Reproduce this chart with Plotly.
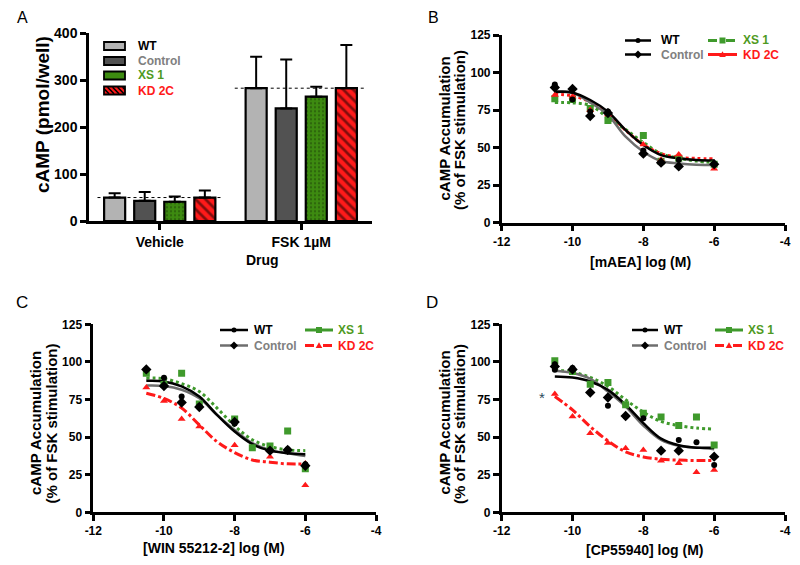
import plotly.graph_objects as go

W, H = 800, 565
OFF = 8  # page body margin offset
FONT = "Liberation Sans, Arial, sans-serif"

# ---------------- Panel A data ----------------
groups = ["Vehicle", "FSK 1µM"]
wt_bar = [50, 283]
control_bar = [43, 240]
xs1_bar = [41, 265]
kd2c_bar = [50, 283]
wt_err = [9, 67]
control_err = [19, 104]
xs1_err = [11, 21]
kd2c_err = [15, 92]
a_yticks = [0, 100, 200, 300, 400]

# ---------------- Dose-response common ----------------
log_ticks = [-12, -10, -8, -6, -4]
log_ticktext = ["-12", "-10", "-8", "-6", "-4"]
pct_ticks = [0, 25, 50, 75, 100, 125]
curve_x = [-10.5, -10, -9.5, -9, -8.5, -8, -7.5, -7, -6.5, -6]

# ---------------- Panel B (mAEA) ----------------
b_x = [-10.5, -10, -9.5, -9, -8, -7.5, -7, -6]
b_wt = [92, 82, 74, 74, 48, 40, 42, 39]
b_control = [90, 89, 71, 73, 46, 40, 37.5, 39]
b_xs1 = [82.5, 82, 76, 68, 58, 41, 43, 39]
b_kd2c = [85, 84, 75, 72, 52, 42, 45.5, 36]
b_wt_fit = [87, 86.6, 81.7, 73.9, 61.7, 51.7, 45, 42.9, 41.8, 41.4]
b_control_fit = [87.7, 86.5, 80, 71.7, 57.3, 47.3, 41.1, 39.5, 38.6, 38.4]
b_xs1_fit = [80, 79.8, 78, 70, 62, 53.5, 46, 43, 41, 40]
b_kd2c_fit = [85.5, 84.5, 80.5, 73, 61.5, 52, 46, 43.5, 42.8, 42.5]

# ---------------- Panel C (WIN 55212-2) ----------------
c_wt_x = [-10.5, -10, -9.5, -9, -8, -7, -6.5, -6]
c_wt = [95, 89.5, 77, 70.5, 59, 41, 42, 32]
c_control_x = [-10.5, -10, -9.5, -9, -8, -7, -6.5, -6]
c_control = [95, 84, 73, 70, 60, 41, 41.5, 31]
c_xs1_x = [-10.5, -10, -9.5, -9, -8, -7.5, -7, -6.5, -6]
c_xs1 = [92.5, 85, 92.5, 72, 62, 43, 44, 54, 29]
c_kd2c_x = [-10.5, -10, -9.5, -9, -8, -7, -6, -6]
c_kd2c = [83, 74, 62, 57, 44.5, 37, 32.5, 18]
c_wt_fit = [87.4, 87, 83.7, 77, 64.8, 53.7, 45.3, 41, 39.3, 38.6]
c_control_fit = [84.3, 84, 81.5, 75.8, 64.8, 54.8, 46, 41.5, 39.3, 37.5]
c_xs1_fit = [89.2, 88.8, 85.5, 80.3, 69.3, 57.5, 48.2, 43.7, 41.5, 41]
c_kd2c_fit = [79.2, 75.7, 69.3, 58.1, 47, 39.7, 34.8, 33.3, 32.2, 32.2]

# ---------------- Panel D (CP55940) ----------------
d_wt_x = [-10.5, -10.5, -10, -9, -8.5, -8, -7, -6.5, -6]
d_wt = [98.5, 94.8, 95.9, 70.8, 63.7, 62.6, 48.1, 46.6, 31.5]
d_control_x = [-10.5, -10, -9.5, -9, -8.5, -7.5, -7, -6]
d_control = [97, 95, 79.7, 76.3, 64, 41, 41, 37]
d_xs1_x = [-10.5, -10, -9.5, -9, -8.5, -8, -7.5, -7, -6.5, -6]
d_xs1 = [100.8, 93.6, 85.2, 86.3, 71.5, 65.9, 63.3, 57.7, 63.3, 44.8]
d_kd2c_x = [-10.5, -10, -9.5, -9, -8.5, -8, -7.5, -7, -6.5, -6]
d_kd2c = [78.6, 63.7, 52.6, 46, 42.6, 41.5, 34.2, 32.6, 26.6, 28.2]
d_wt_fit = [90.3, 89.6, 87, 81.4, 71.5, 59.3, 49, 44.6, 43, 43]
d_control_fit = [94.1, 92.6, 88.8, 80.3, 70.3, 57.7, 48.1, 44.2, 43, 42]
d_xs1_fit = [94.7, 93.2, 89.7, 83.7, 74.8, 66.6, 60.4, 57.7, 56, 55.3]
d_kd2c_fit = [77, 68.1, 57, 47.5, 40.2, 36.8, 35.3, 34.7, 34.4, 34.4]

# ---------------- Styles ----------------
C_WT_BAR = "#b3b3b3"
C_CTRL_BAR = "#525252"
C_GREEN_BAR = "#3d8b10"
C_RED = "#ff1a1a"
C_GREEN = "#3f9a2c"
C_GREEN_TXT = "#4f9a22"
C_GRAY_TXT = "#808080"
C_CTRL_LINE = "#6e6e6e"

fig = go.Figure()

# ---------------- Panel A bars ----------------
bar_specs = [
    ("WT", wt_bar, wt_err, dict(color=C_WT_BAR)),
    ("Control", control_bar, control_err, dict(color=C_CTRL_BAR)),
    ("XS 1", xs1_bar, xs1_err, dict(color=C_GREEN_BAR,
                                     pattern=dict(shape=".", fgcolor="#1c3d05", size=4,
                                                  solidity=0.25, fillmode="overlay"))),
    ("KD 2C", kd2c_bar, kd2c_err, dict(color=C_RED,
                                        pattern=dict(shape="\\", fgcolor="black", size=7,
                                                     solidity=0.38, fillmode="overlay"))),
]
for name, vals, errs, mk in bar_specs:
    mk = dict(mk)
    mk["line"] = dict(color="black", width=2.2)
    fig.add_trace(go.Bar(
        x=groups, y=vals, name=name, marker=mk, xaxis="x", yaxis="y",
        error_y=dict(type="data", array=errs, arrayminus=[0] * len(errs), symmetric=False,
                     color="black", thickness=2, width=6),
        showlegend=False))

# ---------------- Dose-response traces ----------------
def add_panel(ax, fits, points, red_dash):
    xa, ya = "x" + ax, "y" + ax
    (wt_fit, ctrl_fit, xs_fit, kd_fit) = fits
    fig.add_trace(go.Scatter(x=curve_x, y=xs_fit, mode="lines", line=dict(color=C_GREEN, width=3, dash="dot", shape="spline"),
                             xaxis=xa, yaxis=ya, showlegend=False))
    fig.add_trace(go.Scatter(x=curve_x, y=kd_fit, mode="lines", line=dict(color=C_RED, width=3, dash=red_dash, shape="spline"),
                             xaxis=xa, yaxis=ya, showlegend=False))
    fig.add_trace(go.Scatter(x=curve_x, y=ctrl_fit, mode="lines", line=dict(color=C_CTRL_LINE, width=2.5, shape="spline"),
                             xaxis=xa, yaxis=ya, showlegend=False))
    fig.add_trace(go.Scatter(x=curve_x, y=wt_fit, mode="lines", line=dict(color="black", width=2.5, shape="spline"),
                             xaxis=xa, yaxis=ya, showlegend=False))
    (wx, wy), (cx, cy), (sx, sy), (kx, ky) = points
    fig.add_trace(go.Scatter(x=sx, y=sy, mode="markers", marker=dict(symbol="square", size=7, color=C_GREEN),
                             xaxis=xa, yaxis=ya, showlegend=False))
    fig.add_trace(go.Scatter(x=kx, y=ky, mode="markers", marker=dict(symbol="triangle-up", size=7, color=C_RED),
                             xaxis=xa, yaxis=ya, showlegend=False))
    fig.add_trace(go.Scatter(x=cx, y=cy, mode="markers", marker=dict(symbol="diamond", size=8, color="black"),
                             xaxis=xa, yaxis=ya, showlegend=False))
    fig.add_trace(go.Scatter(x=wx, y=wy, mode="markers", marker=dict(symbol="circle", size=6, color="black"),
                             xaxis=xa, yaxis=ya, showlegend=False))

add_panel("2", (b_wt_fit, b_control_fit, b_xs1_fit, b_kd2c_fit),
          ((b_x, b_wt), (b_x, b_control), (b_x, b_xs1), (b_x, b_kd2c)), "dot")
add_panel("3", (c_wt_fit, c_control_fit, c_xs1_fit, c_kd2c_fit),
          ((c_wt_x, c_wt), (c_control_x, c_control), (c_xs1_x, c_xs1), (c_kd2c_x, c_kd2c)), "dashdot")
add_panel("4", (d_wt_fit, d_control_fit, d_xs1_fit, d_kd2c_fit),
          ((d_wt_x, d_wt), (d_control_x, d_control), (d_xs1_x, d_xs1), (d_kd2c_x, d_kd2c)), "dashdot")

# ---------------- Layout helpers (page pixel -> paper) ----------------
shapes = []
annotations = []

def px(x):
    return (x - OFF) / W

def py(y):
    return 1 - (y - OFF) / H

def text_px(x, y, text, size=12, color="black", xanchor="center", bold=True, angle=0, yanchor="middle"):
    annotations.append(dict(x=px(x), y=py(y), xref="paper", yref="paper", text=("<b>%s</b>" % text) if bold else text,
                            showarrow=False, xanchor=xanchor, yanchor=yanchor, textangle=angle, borderpad=0,
                            font=dict(family=FONT, size=size, color=color)))

def line_px(x0, y0, x1, y1, color, width, dash="solid"):
    shapes.append(dict(type="line", xref="paper", yref="paper", x0=px(x0), y0=py(y0), x1=px(x1), y1=py(y1),
                       line=dict(color=color, width=width, dash=dash)))

def path_px(pts, fill, lc=None, lw=0):
    d = "M" + " L".join("%f,%f" % (px(a), py(b)) for a, b in pts) + " Z"
    shapes.append(dict(type="path", xref="paper", yref="paper", path=d, fillcolor=fill,
                       line=dict(color=lc or fill, width=lw)))

def marker_px(cx, cy, symbol, color, r):
    if symbol == "circle":
        shapes.append(dict(type="circle", xref="paper", yref="paper", x0=px(cx - r), x1=px(cx + r),
                           y0=py(cy + r), y1=py(cy - r), fillcolor=color, line=dict(color=color, width=0)))
    elif symbol == "square":
        path_px([(cx - r, cy - r), (cx + r, cy - r), (cx + r, cy + r), (cx - r, cy + r)], color)
    elif symbol == "diamond":
        r2 = r * 1.25
        path_px([(cx - r2, cy), (cx, cy - r2), (cx + r2, cy), (cx, cy + r2)], color)
    elif symbol == "triangle":
        path_px([(cx - r * 1.1, cy + r * 0.8), (cx + r * 1.1, cy + r * 0.8), (cx, cy - r * 1.1)], color)

# ---------------- Panel A legend (drawn) ----------------
leg_a_rows = [46, 61, 75.5, 90.5]
leg_a = [("WT", C_WT_BAR, "black"), ("Control", C_CTRL_BAR, C_GRAY_TXT),
         ("XS 1", C_GREEN_BAR, C_GREEN_TXT), ("KD 2C", C_RED, C_RED)]
rx0, rx1 = 104, 125
for (name, fill, tcol), ry in zip(leg_a, leg_a_rows):
    shapes.append(dict(type="rect", xref="paper", yref="paper", x0=px(rx0), x1=px(rx1), y0=py(ry + 4), y1=py(ry - 4),
                       fillcolor=fill, line=dict(color="black", width=1.8)))
    if name == "KD 2C":
        top, bot = ry - 3.2, ry + 3.2
        h = bot - top
        s = rx0 - h
        while s < rx1:
            xa0, ya0 = s, top
            xa1, ya1 = s + h, bot
            if xa0 < rx0:
                ya0 = top + (rx0 - xa0)
                xa0 = rx0
            if xa1 > rx1:
                ya1 = bot - (xa1 - rx1)
                xa1 = rx1
            if xa1 > xa0:
                line_px(xa0, ya0, xa1, ya1, "black", 1.6)
            s += 5
    text_px(137, ry, name, 12, tcol, xanchor="left")

# ---------------- Dose-response legends (drawn) ----------------
def curve_legend(c1, c2, rows, style_b):
    (l1a, l1b, t1), (l2a, l2b, t2) = c1, c2
    r1, r2 = rows
    line_px(l1a, r1, l1b, r1, "black", 2.5)
    marker_px((l1a + l1b) / 2, r1, "circle", "black", 2.5)
    text_px(t1, r1, "WT", 12, "black", xanchor="left")
    line_px(l1a, r2, l1b, r2, "black" if style_b else C_CTRL_LINE, 2.5)
    marker_px((l1a + l1b) / 2, r2, "diamond", "black", 3.2)
    text_px(t1, r2, "Control", 12, C_GRAY_TXT, xanchor="left")
    line_px(l2a, r1, l2b, r1, C_GREEN, 3, "dash" if style_b else "solid")
    marker_px((l2a + l2b) / 2, r1, "square", C_GREEN, 3)
    text_px(t2, r1, "XS 1", 12, C_GREEN_TXT, xanchor="left")
    line_px(l2a, r2, l2b, r2, C_RED, 3, "solid" if style_b else "dash")
    marker_px((l2a + l2b) / 2, r2, "triangle", C_RED, 3)
    text_px(t2, r2, "KD 2C", 12, C_RED, xanchor="left")

curve_legend((625, 651, 660), (708, 737, 742), (40.5, 54.5), True)
curve_legend((220, 248, 253), (305, 333, 337), (330, 345.5), False)
curve_legend((632, 658, 663), (715, 743, 747), (330, 345.5), False)

# ---------------- Reference dotted lines in A ----------------
shapes.append(dict(type="line", xref="x", yref="y", x0=-0.44, x1=0.45, y0=wt_bar[0], y1=wt_bar[0],
                   line=dict(color="black", width=1, dash="dot")))
shapes.append(dict(type="line", xref="x", yref="y", x0=0.53, x1=1.46, y0=wt_bar[1], y1=wt_bar[1],
                   line=dict(color="black", width=1, dash="dot")))

# ---------------- Titles / labels ----------------
text_px(22, OFF + 0.5, "A", 16, bold=False, yanchor="top")
text_px(433, OFF + 0.5, "B", 16, bold=False, yanchor="top")
text_px(22, 302, "C", 17, bold=False)
text_px(432, 302, "D", 17, bold=False)

text_px(43, 115, "cAMP (pmol/well)", 19, angle=-90)
text_px(262, 260, "Drug", 14)

for xc, yc in [(443.5, 129), (35, 423), (443.5, 423)]:
    text_px(xc, yc, "cAMP Accumulation", 15, angle=-90)
    text_px(xc + 15.5, yc + 1, "(% of FSK stimulation)", 15, angle=-90)

text_px(640, 262, "[mAEA] log (M)", 14)
text_px(214, 548, "[WIN 55212-2] log (M)", 14)
text_px(644, 550, "[CP55940] log (M)", 14)

annotations.append(dict(x=-10.85, y=76, xref="x4", yref="y4", text="*", showarrow=False,
                        font=dict(family=FONT, size=15, color="#2b4a5a")))

# ---------------- Axes ----------------
base = dict(showline=True, linecolor="black", linewidth=2.5, ticks="outside", ticklen=6, tickwidth=2.5,
            tickcolor="black", showgrid=False, zeroline=False, automargin=False, fixedrange=True,
            ticklabeloverflow="allow")
tf12 = dict(family=FONT, size=12, color="black", weight="bold")

yA = [py(221), py(33.3)]
yB = [py(222.7), py(35)]
yCD = [py(512.3), py(324.3)]
xA = [px(89), px(372)]
xBD = [px(501.7), px(785)]
xC = [px(93.3), px(376)]

fig.update_layout(
    width=W, height=H, margin=dict(l=0, r=0, t=0, b=0),
    paper_bgcolor="white", plot_bgcolor="white",
    barmode="group", bargap=0.15, bargroupgap=0.3,
    showlegend=False,
    font=dict(family=FONT),
    xaxis=dict(base, domain=xA, anchor="y", type="category", range=[-0.5, 1.5],
               tickfont=dict(family=FONT, size=14, color="black", weight="bold")),
    yaxis=dict(base, domain=yA, anchor="x", range=[0, 400], tickvals=a_yticks,
               tickfont=dict(family=FONT, size=14, color="black", weight="bold")),
    xaxis2=dict(base, domain=xBD, anchor="y2", range=[-12, -4], tickvals=log_ticks, ticktext=log_ticktext, tickfont=tf12),
    yaxis2=dict(base, domain=yB, anchor="x2", range=[0, 125], tickvals=pct_ticks, tickfont=tf12),
    xaxis3=dict(base, domain=xC, anchor="y3", range=[-12, -4], tickvals=log_ticks, ticktext=log_ticktext, tickfont=tf12),
    yaxis3=dict(base, domain=yCD, anchor="x3", range=[0, 125], tickvals=pct_ticks, tickfont=tf12),
    xaxis4=dict(base, domain=xBD, anchor="y4", range=[-12, -4], tickvals=log_ticks, ticktext=log_ticktext, tickfont=tf12),
    yaxis4=dict(base, domain=yCD, anchor="x4", range=[0, 125], tickvals=pct_ticks, tickfont=tf12),
    shapes=shapes,
    annotations=annotations,
)

fig.write_html("out.html")
